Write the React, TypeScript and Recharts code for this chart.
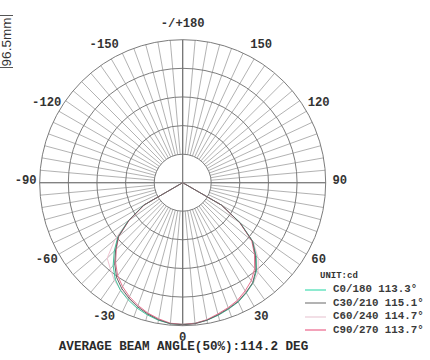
import { RadarChart, Radar, PolarGrid, PolarAngleAxis, PolarRadiusAxis, Legend } from "recharts";

// angles in degrees, 0 at the bottom, positive to the right
const angles = [
  0, 5, 10, 15, 20, 25, 30, 35, 40, 45, 50, 55, 60, 65, 70, 75, 80, 85, 90,
  95, 100, 105, 110, 115, 120, 125, 130, 135, 140, 145, 150, 155, 160, 165, 170, 175, 180,
  -175, -170, -165, -160, -155, -150, -145, -140, -135, -130, -125, -120, -115, -110, -105, -100,
  -95, -90, -85, -80, -75, -70, -65, -60, -55, -50, -45, -40, -35, -30, -25, -20, -15, -10, -5,
];

// intensity (cd) for each C-plane, same order as angles
const c0 = [
  297, 296, 293, 288, 282, 276, 267, 257, 241, 218, 192, 148, 95, 0, 0, 0, 0, 0, 0,
  0, 0, 0, 0, 0, 0, 0, 0, 0, 0, 0, 0, 0, 0, 0, 0, 0, 0,
  0, 0, 0, 0, 0, 0, 0, 0, 0, 0, 0, 0, 0, 0, 0, 0,
  0, 0, 0, 0, 0, 0, 0, 95, 140, 178, 203, 227, 247, 261, 271, 280, 287, 293, 297,
];
const c30 = [
  298, 297, 293, 287, 281, 275, 266, 256, 239, 216, 191, 147, 94, 0, 0, 0, 0, 0, 0,
  0, 0, 0, 0, 0, 0, 0, 0, 0, 0, 0, 0, 0, 0, 0, 0, 0, 0,
  0, 0, 0, 0, 0, 0, 0, 0, 0, 0, 0, 0, 0, 0, 0, 0,
  0, 0, 0, 0, 0, 0, 0, 94, 138, 176, 199, 222, 242, 256, 267, 277, 285, 292, 297,
];
const c60 = [
  298, 297, 292, 286, 280, 273, 264, 258, 246, 224, 193, 146, 92, 0, 0, 0, 0, 0, 0,
  0, 0, 0, 0, 0, 0, 0, 0, 0, 0, 0, 0, 0, 0, 0, 0, 0, 0,
  0, 0, 0, 0, 0, 0, 0, 0, 0, 0, 0, 0, 0, 0, 0, 0,
  0, 0, 0, 0, 0, 0, 0, 92, 139, 186, 224, 236, 250, 260, 268, 276, 284, 291, 297,
];
const c90 = [
  297, 296, 292, 285, 279, 272, 262, 251, 235, 213, 189, 146, 94, 0, 0, 0, 0, 0, 0,
  0, 0, 0, 0, 0, 0, 0, 0, 0, 0, 0, 0, 0, 0, 0, 0, 0, 0,
  0, 0, 0, 0, 0, 0, 0, 0, 0, 0, 0, 0, 0, 0, 0, 0,
  0, 0, 0, 0, 0, 0, 0, 93, 137, 175, 197, 219, 238, 252, 264, 274, 283, 290, 296,
];

const seriesNames = ["C0/180", "C30/210", "C60/240", "C90/270"];
const beamAngles = ["113.3°", "115.1°", "114.7°", "113.7°"];

const labelAngles = [0, 30, 60, 90, 120, 150, 180, -150, -120, -90, -60, -30];
const tickLabels = ["0", "30", "60", "90", "120", "150", "-/+180", "-150", "-120", "-90", "-60", "-30"];

const data = angles.map((angle, i) => ({ angle, c0: c0[i], c30: c30[i], c60: c60[i], c90: c90[i] }));

const W = 430;
const H = 360;
const CX = 182.7;
const CY = 182.7;
const R = 143;
const HOLE = 28.5;
const MONO = '"Liberation Mono", "DejaVu Sans Mono", monospace';

const lineColor: Record<string, string> = { c0: "#3fc79d", c30: "#666666", c60: "#efc3d1", c90: "#e8718e" };
const swatchColor: Record<string, string> = { c0: "#8eead0", c30: "#b3b3b3", c60: "#f2dfe6", c90: "#f3a2b9" };

function AngleTick(props: any) {
  const { payload } = props;
  const idx = labelAngles.indexOf(payload.value);
  if (idx < 0) return <g />;
  // place the label from the category angle itself: 0 at the bottom, counter-clockwise
  const rad = ((payload.value - 90) * Math.PI) / 180;
  const lr = 157;
  const fs = 12.2;
  const x = CX + lr * Math.cos(rad);
  const y = CY - lr * Math.sin(rad) - 2.5 + fs * 0.33;
  return (
    <text x={x} y={y} textAnchor="middle" fontFamily={MONO} fontWeight="bold" fontSize={fs} fill="#333">
      {tickLabels[idx]}
    </text>
  );
}

function LegendBox(props: any) {
  const items = [...(props.payload || [])].sort((a: any, b: any) => String(a.value).localeCompare(String(b.value)));
  return (
    <div style={{ fontFamily: MONO, fontWeight: "bold", fontSize: 10.8, color: "#3a3a3a" }}>
      {items.map((it: any) => (
        <div key={it.dataKey} style={{ display: "flex", alignItems: "center", height: 13.5 }}>
          <span style={{ display: "inline-block", width: 21, height: 2, background: swatchColor[it.dataKey], marginRight: 7 }} />
          <span style={{ whiteSpace: "pre", lineHeight: "13px" }}>{it.value}</span>
        </div>
      ))}
    </div>
  );
}

export default function App() {
  const margin = { top: 0, right: 0, bottom: 0, left: 0 };
  return (
    <div style={{ position: "absolute", left: 0, top: 0, width: W, height: H, background: "#fff", overflow: "hidden" }}>
      {/* grid: rings and 5 degree spokes, starting outside the centre hole */}
      <div style={{ position: "absolute", left: 0, top: 0 }}>
        <RadarChart width={W} height={H} data={data} cx={CX} cy={CY} innerRadius={HOLE} outerRadius={R}
          startAngle={-90} endAngle={270} margin={margin}>
          <PolarGrid gridType="circle" polarRadius={[]} stroke="#9e9e9e" strokeWidth={0.8} />
          <PolarGrid gridType="circle" radialLines={false} stroke="#7c7c7c" strokeWidth={1} />
          <PolarAngleAxis dataKey="angle" tick={false} tickLine={false} axisLine={false} />
          <PolarRadiusAxis domain={[0, 300]} tickCount={5} tick={false} axisLine={false} />
          <Radar dataKey="c30" stroke="none" fill="none" dot={false} isAnimationActive={false} />
        </RadarChart>
      </div>

      {/* curves, main cross and labels; the radar puts points one band after the start angle, so start 5 deg earlier */}
      <div style={{ position: "absolute", left: 0, top: 0 }}>
        <RadarChart width={W} height={H} data={data} cx={CX} cy={CY} innerRadius={0} outerRadius={R}
          startAngle={-95} endAngle={265} margin={margin}>
          <PolarGrid gridType="circle" polarAngles={[-90, 0, 90, 180]} polarRadius={[]} stroke="#6c6c6c" strokeWidth={1.1} />
          <PolarAngleAxis dataKey="angle" tick={<AngleTick />} tickLine={false} axisLine={false} />
          <PolarRadiusAxis domain={[0, 300]} tickCount={5} tick={false} axisLine={false} />
          <Radar name={`${seriesNames[2]} ${beamAngles[2]}`} dataKey="c60" stroke={lineColor.c60} strokeWidth={1} fill="none" fillOpacity={0} dot={false} isAnimationActive={false} />
          <Radar name={`${seriesNames[0]} ${beamAngles[0]}`} dataKey="c0" stroke={lineColor.c0} strokeWidth={1} fill="none" fillOpacity={0} dot={false} isAnimationActive={false} />
          <Radar name={`${seriesNames[3]} ${beamAngles[3]}`} dataKey="c90" stroke={lineColor.c90} strokeWidth={1} fill="none" fillOpacity={0} dot={false} isAnimationActive={false} />
          <Radar name={`${seriesNames[1]} ${beamAngles[1]}`} dataKey="c30" stroke={lineColor.c30} strokeWidth={1} fill="none" fillOpacity={0} dot={false} isAnimationActive={false} />
          <Legend content={<LegendBox />} layout="vertical" align="right" verticalAlign="bottom"
            wrapperStyle={{ left: 305, top: 283, right: "auto", bottom: "auto", width: 125 }} />
        </RadarChart>
      </div>

      <div style={{ position: "absolute", left: 320, top: 270.5, fontFamily: MONO, fontWeight: "bold", fontSize: 9, lineHeight: "10px", color: "#333" }}>
        UNIT:cd
      </div>

      <div style={{ position: "absolute", left: 0, width: 367, top: 341, textAlign: "center", fontFamily: MONO, fontWeight: "bold", fontSize: 12.6, lineHeight: "12.6px", color: "#2a2a2a", whiteSpace: "pre" }}>
        AVERAGE BEAM ANGLE(50%):114.2 DEG
      </div>

      <div style={{ position: "absolute", left: 0, top: 15, width: 13, height: 53, borderTop: "1px solid #555", borderBottom: "1px solid #555", boxSizing: "border-box" }}>
        <div style={{ position: "absolute", left: "50%", top: "50%", transform: "translate(-50%, -50%) rotate(-90deg)", fontFamily: '"Liberation Sans", Arial, sans-serif', fontSize: 13.5, lineHeight: "12px", color: "#333", whiteSpace: "nowrap" }}>
          96.5mm
        </div>
      </div>
    </div>
  );
}
